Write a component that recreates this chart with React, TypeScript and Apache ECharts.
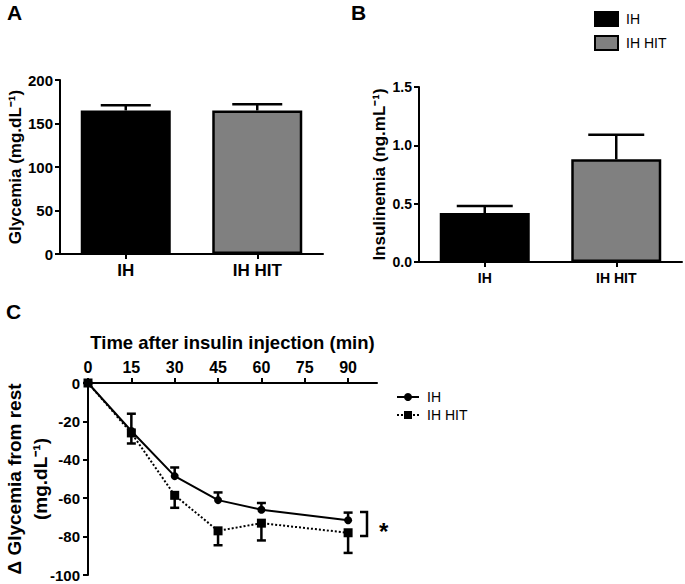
import React, { useEffect, useRef } from 'react';
import * as echarts from 'echarts';

const groups = ['IH', 'IH HIT'];
const glycemia = [165, 165];
const glycemiaSem = [6, 7];
const insulinemia = [0.42, 0.88];
const insulinemiaSem = [0.06, 0.21];
const timePoints = [0, 15, 30, 45, 60, 90];
const deltaIH = [0, -25, -48.5, -61, -66, -71.5];
const deltaIHSem = [0, 9, 4.5, 4, 3.5, 4];
const deltaHIT = [0, -26, -58.5, -77, -73, -78];
const deltaHITSem = [0, 5.5, 6.5, 7.5, 9, 10.5];
const timeTicks = [0, 15, 30, 45, 60, 75, 90];

const FONT = "'Liberation Sans', Arial, sans-serif";
const BLACK = '#000000';
const GREY = '#808080';

function errorRenderer(capWidth: number, lw: number) {
  return (params: any, api: any) => {
    const x = api.value(0);
    const v = api.value(1);
    const e = api.value(2);
    const dir = api.value(3);
    const p0 = api.coord([x, v]);
    const p1 = api.coord([x, v + dir * e]);
    return {
      type: 'group',
      children: [
        { type: 'line', shape: { x1: p0[0], y1: p0[1], x2: p1[0], y2: p1[1] }, style: { stroke: BLACK, lineWidth: lw } },
        { type: 'line', shape: { x1: p1[0] - capWidth / 2, y1: p1[1], x2: p1[0] + capWidth / 2, y2: p1[1] }, style: { stroke: BLACK, lineWidth: lw } },
      ],
    };
  };
}

function axisLine() {
  return { show: true, lineStyle: { color: BLACK, width: 2 } };
}

export default function App() {
  const ref = useRef<HTMLDivElement>(null);
  useEffect(() => {
    if (!ref.current) return;
    const chart = echarts.init(ref.current, undefined, { renderer: 'svg' });
    const option: any = {
      animation: false,
      backgroundColor: '#ffffff',
      textStyle: { fontFamily: FONT, color: BLACK },
      grid: [
        { left: 60, top: 80, width: 263, height: 174, outerBoundsMode: 'none' },
        { left: 419, top: 87, width: 263, height: 175, outerBoundsMode: 'none' },
        { left: 88, top: 383, width: 289, height: 192, outerBoundsMode: 'none' },
      ],
      xAxis: [
        {
          type: 'category', gridIndex: 0, data: groups,
          axisLine: axisLine(),
          axisTick: { show: true, alignWithLabel: true, length: 5, lineStyle: { color: BLACK, width: 2 } },
          axisLabel: { fontSize: 17, fontWeight: 'bold', color: BLACK, margin: 8, fontFamily: FONT },
        },
        {
          type: 'category', gridIndex: 1, data: groups,
          axisLine: axisLine(),
          axisTick: { show: true, alignWithLabel: true, length: 5, lineStyle: { color: BLACK, width: 2 } },
          axisLabel: { fontSize: 14, fontWeight: 'bold', color: BLACK, margin: 9, fontFamily: FONT },
        },
        {
          type: 'value', gridIndex: 2, position: 'top', min: 0, max: 100,
          name: 'Time after insulin injection (min)', nameLocation: 'middle', nameGap: 31,
          nameTextStyle: { fontSize: 18.5, fontWeight: 'bold', color: BLACK, fontFamily: FONT },
          axisLine: { ...axisLine(), onZero: false },
          axisTick: { show: true, inside: false, length: 5, customValues: timeTicks, lineStyle: { color: BLACK, width: 2 } },
          axisLabel: { fontSize: 16, fontWeight: 'bold', color: BLACK, margin: 8, customValues: timeTicks, fontFamily: FONT },
          splitLine: { show: false },
        },
      ],
      yAxis: [
        {
          type: 'value', gridIndex: 0, min: 0, max: 200, interval: 50,
          name: 'Glycemia (mg.dL⁻¹)', nameLocation: 'middle', nameGap: 34,
          nameTextStyle: { fontSize: 17, fontWeight: 'bold', color: BLACK, fontFamily: FONT },
          axisLine: axisLine(),
          axisTick: { show: true, length: 5, lineStyle: { color: BLACK, width: 2 } },
          axisLabel: { fontSize: 15, fontWeight: 'bold', color: BLACK, margin: 7, fontFamily: FONT },
          splitLine: { show: false },
        },
        {
          type: 'value', gridIndex: 1, min: 0, max: 1.5, interval: 0.5,
          name: 'Insulinemia (ng.mL⁻¹)', nameLocation: 'middle', nameGap: 31,
          nameTextStyle: { fontSize: 17, fontWeight: 'bold', color: BLACK, fontFamily: FONT },
          axisLine: axisLine(),
          axisTick: { show: true, length: 5, lineStyle: { color: BLACK, width: 2 } },
          axisLabel: { fontSize: 14, fontWeight: 'bold', color: BLACK, margin: 7, fontFamily: FONT, formatter: (v: number) => v.toFixed(1) },
          splitLine: { show: false },
        },
        {
          type: 'value', gridIndex: 2, min: -100, max: 0, interval: 20,
          name: 'Δ Glycemia from rest\n(mg.dL⁻¹)', nameLocation: 'middle', nameGap: 35, nameMoveOverlap: false,
          nameTextStyle: { fontSize: 19, fontWeight: 'bold', color: BLACK, lineHeight: 26, fontFamily: FONT },
          axisLine: { ...axisLine(), onZero: false },
          axisTick: { show: true, length: 5, lineStyle: { color: BLACK, width: 2 } },
          axisLabel: { fontSize: 15, fontWeight: 'bold', color: BLACK, margin: 8, fontFamily: FONT },
          splitLine: { show: false },
        },
      ],
      legend: [
        {
          orient: 'vertical', left: 594, top: 11, padding: 0, itemWidth: 23, itemHeight: 14, itemGap: 8,
          textStyle: { fontSize: 14, color: BLACK, fontFamily: FONT, padding: [0, 0, 0, 3] },
          data: [
            { name: 'IH', icon: 'rect', itemStyle: { color: BLACK, borderColor: BLACK, borderWidth: 2 } },
            { name: 'IH HIT', icon: 'rect', itemStyle: { color: GREY, borderColor: BLACK, borderWidth: 2 } },
          ],
        },
        {
          orient: 'vertical', left: 396, top: 390, padding: 0, itemWidth: 22, itemHeight: 10, itemGap: 4,
          textStyle: { fontSize: 14, color: BLACK, fontFamily: FONT, padding: [0, 0, 0, 3] },
          data: ['IH', 'IH HIT'],
        },
      ],
      series: [
        {
          type: 'line', name: 'IH', xAxisIndex: 2, yAxisIndex: 2,
          data: timePoints.map((t, i) => [t, deltaIH[i]]),
          symbol: 'circle', symbolSize: 8,
          lineStyle: { color: BLACK, width: 2 },
          itemStyle: { color: BLACK },
          z: 4,
        },
        {
          type: 'line', name: 'IH HIT', xAxisIndex: 2, yAxisIndex: 2,
          data: timePoints.map((t, i) => [t, deltaHIT[i]]),
          symbol: 'rect', symbolSize: 9,
          lineStyle: { color: BLACK, width: 2, type: 'dotted' },
          itemStyle: { color: BLACK },
          z: 3,
        },
        {
          type: 'custom', name: 'IH SEM', xAxisIndex: 2, yAxisIndex: 2,
          data: timePoints.map((t, i) => [t, deltaIH[i], deltaIHSem[i], 1]),
          renderItem: errorRenderer(9, 2.5), z: 5,
        },
        {
          type: 'custom', name: 'IH HIT SEM', xAxisIndex: 2, yAxisIndex: 2,
          data: timePoints.map((t, i) => [t, deltaHIT[i], deltaHITSem[i], -1]),
          renderItem: errorRenderer(9, 2.5), z: 5,
        },
        {
          type: 'bar', name: 'IH', xAxisIndex: 0, yAxisIndex: 0, barWidth: 90, barGap: '-100%',
          data: [glycemia[0], '-'],
          itemStyle: { color: BLACK, borderColor: BLACK, borderWidth: 2.5 },
        },
        {
          type: 'bar', name: 'IH HIT', xAxisIndex: 0, yAxisIndex: 0, barWidth: 90, barGap: '-100%',
          data: ['-', glycemia[1]],
          itemStyle: { color: GREY, borderColor: BLACK, borderWidth: 2.5 },
        },
        {
          type: 'custom', name: 'Glycemia SEM', xAxisIndex: 0, yAxisIndex: 0,
          data: groups.map((g, i) => [i, glycemia[i], glycemiaSem[i], 1]),
          renderItem: errorRenderer(50, 2.5), z: 1,
        },
        {
          type: 'bar', name: 'IH', xAxisIndex: 1, yAxisIndex: 1, barWidth: 90, barGap: '-100%',
          data: [insulinemia[0], '-'],
          itemStyle: { color: BLACK, borderColor: BLACK, borderWidth: 2.5 },
        },
        {
          type: 'bar', name: 'IH HIT', xAxisIndex: 1, yAxisIndex: 1, barWidth: 90, barGap: '-100%',
          data: ['-', insulinemia[1]],
          itemStyle: { color: GREY, borderColor: BLACK, borderWidth: 2.5 },
        },
        {
          type: 'custom', name: 'Insulinemia SEM', xAxisIndex: 1, yAxisIndex: 1,
          data: groups.map((g, i) => [i, insulinemia[i], insulinemiaSem[i], 1]),
          renderItem: errorRenderer(56, 2.5), z: 1,
        },
      ],
      graphic: [
        { type: 'text', left: 7, top: 2, style: { text: 'A', fontSize: 21, fontWeight: 'bold', fill: BLACK, fontFamily: FONT } },
        { type: 'text', left: 351, top: 2, style: { text: 'B', fontSize: 21, fontWeight: 'bold', fill: BLACK, fontFamily: FONT } },
        { type: 'text', left: 6, top: 301, style: { text: 'C', fontSize: 21, fontWeight: 'bold', fill: BLACK, fontFamily: FONT } },
        {
          type: 'polyline',
          shape: { points: [[360, 512], [367, 512], [367, 536], [360, 536]] },
          style: { stroke: BLACK, lineWidth: 2.5, fill: 'none' },
        },
        { type: 'text', left: 379, top: 519, style: { text: '*', fontSize: 24, fontWeight: 'bold', fill: BLACK, fontFamily: FONT } },
      ],
    };
    chart.setOption(option);
    return () => chart.dispose();
  }, []);
  return <div ref={ref} style={{ position: 'fixed', left: 0, top: 0, width: 685, height: 584 }} />;
}
